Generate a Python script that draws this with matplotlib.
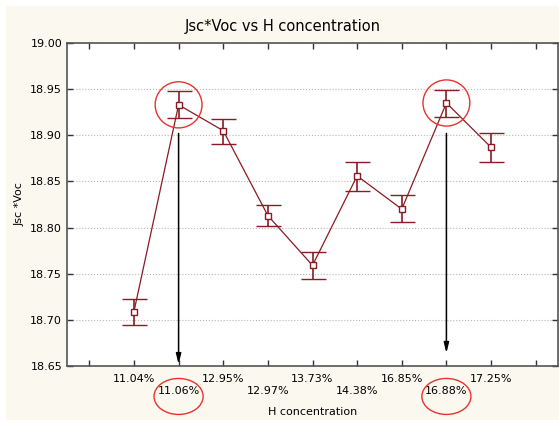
import matplotlib.pyplot as plt
from matplotlib.patches import Rectangle, Ellipse

# H concentration categories (in plot order) and measured Jsc*Voc
labels = ['11.04%', '11.06%', '12.95%', '12.97%', '13.73%',
          '14.38%', '16.85%', '16.88%', '17.25%']
means = [18.709, 18.933, 18.905, 18.813, 18.759, 18.856, 18.820, 18.935, 18.887]
upper = [18.723, 18.948, 18.918, 18.824, 18.774, 18.871, 18.835, 18.949, 18.903]
lower = [18.694, 18.919, 18.891, 18.802, 18.744, 18.840, 18.806, 18.920, 18.871]

# highlighted points (index into labels) and arrow ends
marked = [1, 7]
arrow_top = [18.902, 18.902]
arrow_tip = [18.652, 18.664]

red = '#8b1a22'
cream = '#fbf8ef'

fig = plt.figure(figsize=(5.59, 4.22), dpi=100)
fig.patch.set_facecolor('white')
fig.patches.append(Rectangle((6 / 559, 2 / 422), 1 - 6 / 559, 1 - 8 / 422,
                             transform=fig.transFigure, facecolor=cream,
                             edgecolor='none', zorder=-10))

ax = fig.add_axes([67 / 559, 56 / 422, 491 / 559, 323 / 422])
ax.set_facecolor('white')

xs = list(range(1, len(labels) + 1))
yerr = [[m - lo for m, lo in zip(means, lower)], [hi - m for m, hi in zip(means, upper)]]
ax.errorbar(xs, means, yerr=yerr, color=red, lw=0.9, elinewidth=1.2, capsize=9,
            capthick=1.2, marker='s', ms=5, mfc='white', mec=red, mew=1, zorder=3)

# arrows and red circles
for i, top, tip in zip(marked, arrow_top, arrow_tip):
    x = xs[i]
    ax.annotate('', xy=(x, tip), xytext=(x, top),
                arrowprops=dict(arrowstyle='-|>,head_width=0.15,head_length=0.6',
                                color='black', lw=1.1, shrinkA=0, shrinkB=0),
                zorder=2)
    ax.add_patch(Ellipse((x, means[i]), 1.05, 0.05, fill=False, ec='#e8322e', lw=1, zorder=4))
    ax.add_patch(Ellipse((x, 18.617), 1.1, 0.039, fill=False, ec='#e8322e', lw=1,
                         clip_on=False, zorder=4))

ax.set_xlim(-0.5, len(labels) + 1.5)
ax.set_ylim(18.65, 19.0)
ax.set_xticks(range(0, len(labels) + 2))
ticklabels = [''] + [lab if k % 2 == 0 else '\n' + lab for k, lab in enumerate(labels)] + ['']
ax.set_xticklabels(ticklabels, fontsize=8)
ax.set_yticks([18.65 + 0.05 * k for k in range(8)])
ax.set_yticklabels(['%.2f' % (18.65 + 0.05 * k) for k in range(8)], fontsize=8)
ax.tick_params(direction='in', top=True, right=True, length=4, width=1, color='#333333')
ax.tick_params(axis='x', pad=6)
ax.grid(axis='y', ls=':', color='#b8b8b8', lw=0.8)
for s in ax.spines.values():
    s.set_color('#555555')
    s.set_linewidth(1.2)

fig.text(283 / 559, 1 - 26 / 422, 'Jsc*Voc vs H concentration', fontsize=10.5,
         ha='center', va='center')
ax.set_xlabel('H concentration', fontsize=8, labelpad=8)
ax.set_ylabel('Jsc *Voc', fontsize=8, labelpad=4)

fig.savefig('out.png', dpi=100, facecolor=fig.get_facecolor())
